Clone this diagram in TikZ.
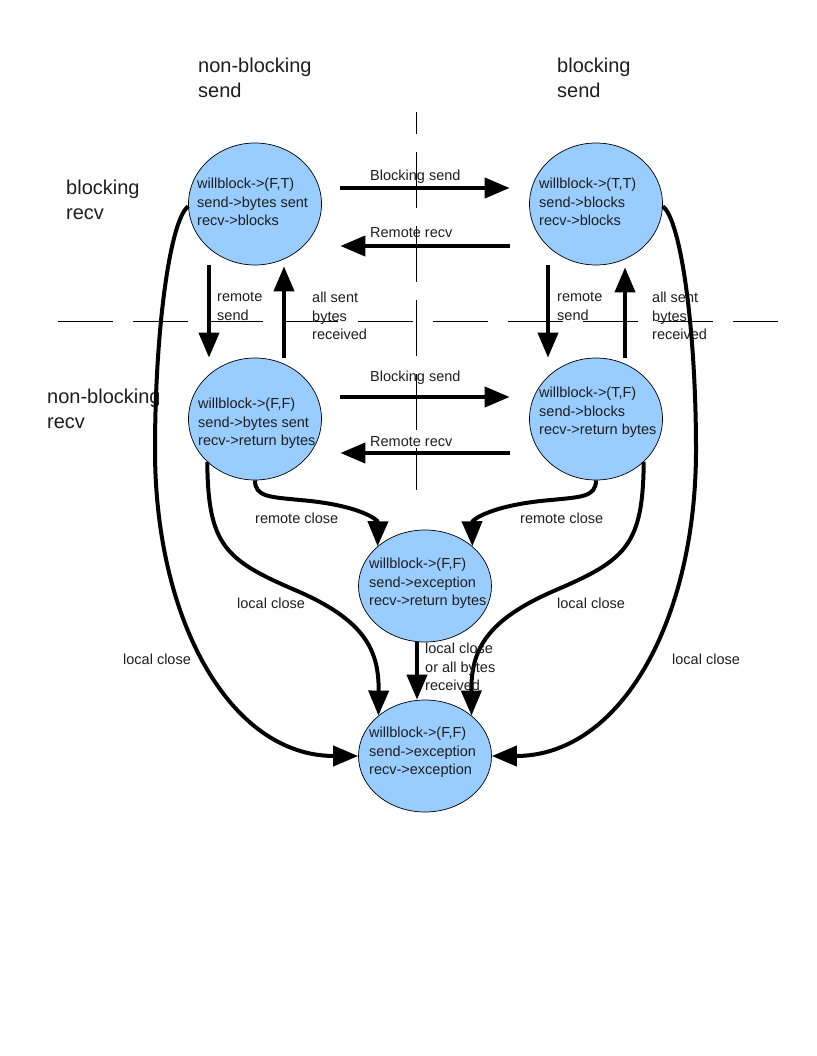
\documentclass[tikz,border=0pt]{standalone}
\usepackage{fontspec}
\setmainfont{Liberation Sans}
\usetikzlibrary{arrows.meta,calc,shapes.geometric}

\definecolor{stateblue}{RGB}{153,204,255}
\definecolor{ink}{RGB}{30,30,30}

\begin{document}
\begin{tikzpicture}[
  x=1pt, y=-1pt,
  state/.style={ellipse, draw=black, line width=0.7pt, fill=stateblue,
    inner sep=0pt, minimum width=133pt, minimum height=122pt},
  endstate/.style={state, minimum height=112pt},
  body/.style={anchor=north west, inner sep=0pt, align=left, text=ink,
    font=\fontsize{14.5}{18.5}\selectfont, execute at begin node=\strut},
  lbl/.style={anchor=base west, inner sep=0pt, text=ink,
    font=\fontsize{14.5}{18.5}\selectfont},
  hdr/.style={anchor=north west, inner sep=0pt, align=left, text=ink,
    font=\fontsize{20}{24.5}\selectfont, execute at begin node=\strut},
  arr/.style={line width=4pt, -{Triangle[length=25pt,width=20pt]}},
  haxis/.style={line width=1pt, dash pattern=on 55pt off 20pt},
  vaxis/.style={line width=1pt, dash pattern=on 56pt off 18pt, dash phase=34pt}
]
\useasboundingbox (0,0) rectangle (816,1056);
\fill[white] (0,0) rectangle (816,1056);

% quadrant axes
\coordinate (hL) at (58,321);
\coordinate (hR) at (778,321);
\coordinate (vT) at (416,112);
\coordinate (vB) at (416,490);
\draw[haxis] (hL) -- (hR);
\draw[vaxis] (vT) -- (vB);

% quadrant headings
\node[hdr] (hNBS) at (198,58) {non-blocking\\send};
\node[hdr] (hBS)  at (557,58) {blocking\\send};
\node[hdr] (hBR)  at (66,180) {blocking\\recv};
\node[hdr] (hNBR) at (47,389) {non-blocking\\recv};

% states
\node[state] (A) at (255,204) {};
\node[state] (B) at (596,204) {};
\node[state] (C) at (255,419) {};
\node[state] (D) at (596,419) {};
\node[endstate] (E) at (425,586) {};
\node[endstate] (F) at (425,756) {};

\node[body] (At) at (197,178) {willblock->(F,T)\\send->bytes sent\\recv->blocks};
\node[body] (Bt) at (539,178) {willblock->(T,T)\\send->blocks\\recv->blocks};
\node[body] (Ct) at (198,398) {willblock->(F,F)\\send->bytes sent\\recv->return bytes};
\node[body] (Dt) at (539,387) {willblock->(T,F)\\send->blocks\\recv->return bytes};
\node[body] (Et) at (369,558) {willblock->(F,F)\\send->exception\\recv->return bytes};
\node[body] (Ft) at (369,727) {willblock->(F,F)\\send->exception\\recv->exception};

% horizontal transitions
\draw[arr, shorten <=18.5pt, shorten >=19.5pt] ([yshift=16pt]A.east) -- ([yshift=16pt]B.west);
\draw[arr, shorten <=19.5pt, shorten >=18.5pt] ([yshift=-42pt]B.west) -- ([yshift=-42pt]A.east);
\draw[arr, shorten <=18.5pt, shorten >=19.5pt] ([yshift=22pt]C.east) -- ([yshift=22pt]D.west);
\draw[arr, shorten <=19.5pt, shorten >=18.5pt] ([yshift=-34pt]D.west) -- ([yshift=-34pt]C.east);

\node[lbl] (lAB) at (370,181) {Blocking send};
\node[lbl] (lBA) at (370,238) {Remote recv};
\node[lbl] (lCD) at (370,381) {Blocking send};
\node[lbl] (lDC) at (370,446) {Remote recv};

% vertical transitions
\draw[arr] ([xshift=-46pt]A.south) -- ([xshift=-46pt]C.north);
\draw[arr, shorten >=1pt] ([xshift=29pt]C.north) -- ([xshift=29pt]A.south);
\draw[arr] ([xshift=-48pt]B.south) -- ([xshift=-48pt]D.north);
\draw[arr, shorten >=2pt] ([xshift=29pt]D.north) -- ([xshift=29pt]B.south);

\node[body] (lAC) at (217,292) {remote\\send};
\node[body] (lCA) at (312,292) {all sent\\bytes\\received};
\node[body] (lBD) at (557,292) {remote\\send};
\node[body] (lDB) at (652,292) {all sent\\bytes\\received};

% remote close
\draw[arr] (C.south) .. controls (255,497) and (270,497) .. (300,500)
  .. controls (360,505) and (378,520) .. (E.140);
\draw[arr] (D.south) .. controls (596,497) and (581,497) .. (551,500)
  .. controls (491,505) and (472,520) .. (E.40);
\node[lbl] (lCE) at (255,523) {remote close};
\node[lbl] (lDE) at (520,523) {remote close};

% local close
\draw[arr] (C.222) .. controls (208,545) and (225,560) .. (295,590)
  .. controls (365,620) and (379,650) .. (F.139);
\draw[arr] (D.318) .. controls (643,545) and (626,560) .. (556,590)
  .. controls (486,620) and (471,650) .. (F.41);
\draw[arr] (A.182) .. controls (170,220) and (155,330) .. (155,450)
  .. controls (155,620) and (230,756) .. (F.180);
\draw[arr] (B.358) .. controls (681,220) and (696,330) .. (696,450)
  .. controls (696,620) and (621,756) .. (F.0);
\node[lbl] (lCF) at (237,608) {local close};
\node[lbl] (lDF) at (557,608) {local close};
\node[lbl] (lAF) at (123,664) {local close};
\node[lbl] (lBF) at (672,664) {local close};

% drain
\draw[arr] ([xshift=-8pt]E.south) -- ([xshift=-8pt]F.north);
\node[body] (lEF) at (425,643) {local close\\or all bytes\\received};

\end{tikzpicture}
\end{document}
